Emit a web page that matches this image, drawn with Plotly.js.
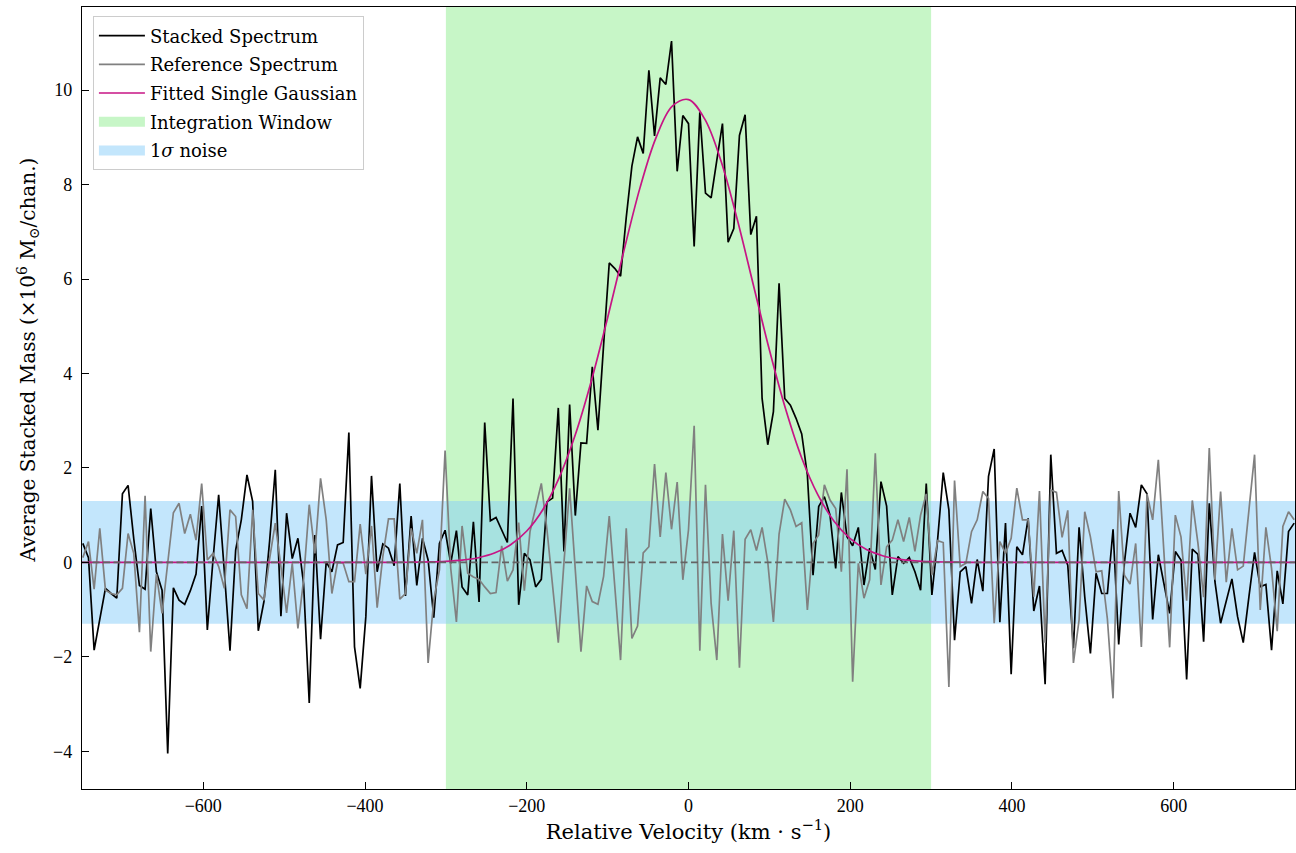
<!DOCTYPE html>
<html>
<head>
<meta charset="utf-8">
<script src="https://cdn.plot.ly/plotly-3.0.1.min.js"></script>
<style>html,body{margin:0;padding:0;background:#fff;}#chart{width:1296px;height:853px;}</style>
</head>
<body>
<div id="chart"></div>
<script>
// ---- channel grid (km/s) ----
const channelStart = -749;
const channelWidth = 7;
const channelCount = 215;

// ---- stacked spectrum (x1e6 Msun / chan) ----
const stackedSpectrum = [
 0.40, 0.10,-1.86,-1.20,-0.55,-0.66,-0.76, 1.45, 1.63, 0.50,
-0.49,-0.57, 1.14,-0.20,-0.59,-4.05,-0.54,-0.80,-0.89,-0.60,
-0.25, 1.19,-1.43, 0.05, 1.43,-0.20,-1.87, 0.26, 0.90, 1.85,
 1.29,-1.45,-0.83, 0.45, 1.96,-1.14, 1.04, 0.08, 0.51,-0.45,
-2.98, 0.58,-1.63, 0.01,-0.20, 0.37, 0.42, 2.75,-1.79,-2.67,
-1.15, 1.83,-0.20, 0.39, 0.30,-0.07, 1.67,-0.71, 0.98,-0.49,
 0.51, 0.05,-1.17, 0.40, 0.68,-0.02, 0.67,-0.52,-0.69, 0.86,
-0.84, 2.96, 0.88, 0.95, 0.69, 0.42, 3.47,-0.90, 0.19, 0.05,
-0.52,-0.36, 1.28, 1.36, 3.27, 0.23, 3.34, 0.99, 2.53, 2.52,
 4.14, 2.80, 4.60, 6.34, 6.22, 6.06, 7.30, 8.39, 9.01, 8.66,
10.42, 9.03,10.26,10.12,11.04, 8.28, 9.46, 9.29, 6.69, 9.53,
 7.82, 7.72, 8.51, 9.29, 6.78, 7.07, 9.04, 9.48, 6.94, 7.33,
 3.47, 2.49, 3.19, 5.91, 3.47, 3.33, 3.05, 2.72, 1.85,-0.27,
 1.18, 1.39, 1.00,-0.13, 1.48, 0.54, 0.35, 0.74,-0.48, 0.30,
-0.15, 1.71, 1.19,-0.69, 0.12,-0.02, 0.10,-0.20,-0.59, 1.67,
-0.69, 0.47, 1.90, 1.11,-1.65,-0.20,-0.09,-0.87, 0.06,-0.61,
 1.82, 2.40,-1.27, 0.83,-2.37, 0.33, 0.16, 0.93,-1.03,-0.50,
-2.58, 2.28, 0.19, 0.25,-0.06,-1.82, 0.74,-0.73,-1.93,-0.23,
-0.66,-0.66, 0.70,-1.74,-0.02, 1.04, 0.74, 1.64, 1.45,-1.21,
 0.16,-0.48,-1.08, 0.23, 0.05,-2.48, 0.28, 0.17,-1.68, 1.25,
-0.41,-1.29,-0.80,-0.35,-1.15,-1.70,-0.73, 0.21,-0.52,-0.47,
-1.86,-0.18,-0.88, 0.65, 0.83
];

// ---- reference spectrum ----
const referenceSpectrum = [
 0.10, 0.44,-0.57, 0.72,-0.59,-0.66,-0.69,-0.55, 0.61, 0.19,
-1.48, 1.41,-1.89,-0.25,-1.08, 0.05, 1.05, 1.25, 0.61, 1.02,
 0.47, 1.67, 0.05, 0.19,-0.09,-0.55, 1.11, 0.97,-0.69,-0.98,
 1.11,-0.66,-0.80, 0.08, 0.83,-0.09,-1.07,-0.02,-1.40,-0.37,
 1.22, 0.19, 1.78, 0.90,-0.66, 0.00,-0.02,-0.41,-0.41, 0.81,
-0.25, 0.77,-0.96, 0.12, 0.92, 0.92,-0.78,-0.66, 0.72, 0.19,
 0.90,-2.13,-0.80,-0.16, 2.37,-0.13,-1.26, 0.77,-0.23,-0.31,
-0.36,-0.52,-0.66,-0.64, 0.35,-0.40,-0.16, 0.84,-0.60, 0.65,
 1.18, 1.67, 0.69,-0.48,-1.70, 0.00, 1.57,-0.16,-1.89,-0.50,
-0.83,-0.89,-0.30, 0.98,-0.52,-2.07, 0.72,-1.61,-1.35, 0.20,
 0.33, 2.08, 0.54, 1.90, 0.70, 1.70,-0.37, 0.69, 2.89,-1.87,
 1.64,-0.87,-2.07, 0.60,-0.81, 0.67,-2.23, 0.49, 0.69, 0.25,
 0.74, 0.01,-1.26, 0.60, 1.34, 1.11, 0.76, 0.84,-1.01, 0.40,
 0.58, 1.64, 1.32, 1.14,-0.20, 1.97,-2.53,-0.02,-0.76,-0.37,
 2.31,-0.48, 0.33, 0.47, 0.90, 0.44, 0.95, 0.23, 1.00, 1.45,
-0.27, 0.46, 0.42,-2.64, 1.73,-0.09,-0.02, 0.65, 0.90, 1.50,
 1.35,-1.29, 0.44, 0.19, 0.51, 1.57, 0.90, 0.90,-0.73, 1.51,
-1.70, 1.53, 1.48, 0.53, 1.10,-2.13,-1.22, 1.07, 0.54,-0.20,
-0.18,-1.20,-2.88, 1.51,-0.27,-0.46, 0.40,-1.79, 1.45, 0.90,
 2.17, 0.19,-1.80, 1.00, 0.54,-0.81, 1.31, 0.40,-0.74, 2.42,
-0.37, 1.50,-0.42, 0.72,-0.16,-0.08, 1.11, 2.28,-1.01, 0.74,
-0.13,-1.46, 0.76, 1.07, 0.90
];

// ---- fitted single gaussian, sampled ----
const gaussVelocity = [-750,-360,-340,-320,-300,-280,-260,-240,-220,-200,-180,-160,-140,-120,-100,-80,-60,-40,-20,0,20,40,60,80,100,120,140,160,180,200,220,240,260,280,300,320,340,360,750];
const gaussMass     = [0,0,0.003,0.009,0.021,0.046,0.098,0.196,0.371,0.663,1.12,1.79,2.70,3.85,5.18,6.59,7.93,9.00,9.66,9.80,9.39,8.51,7.28,5.89,4.50,3.25,2.21,1.43,0.87,0.50,0.27,0.14,0.068,0.031,0.013,0.0055,0.002,0,0];

// ---- integration window and noise ----
const integrationWindow = [-300, 300];
const noiseSigma = 1.3;
const velocityLimits = [-750, 750];
const massLimits = [-4.80, 11.76];
const xTicks = [-600,-400,-200,0,200,400,600];
const yTicks = [-4,-2,0,2,4,6,8,10];

const velocity = [];
for (let i = 0; i < channelCount; i++) velocity.push(channelStart + i*channelWidth);

const greenFill = 'rgba(144,238,144,0.5)';
const blueFill = 'rgba(135,206,250,0.5)';
const big = 1000;
const traces = [
  { // integration window
    x: [integrationWindow[0], integrationWindow[1], integrationWindow[1], integrationWindow[0], integrationWindow[0]],
    y: [-big, -big, big, big, -big],
    mode: 'lines', fill: 'toself', fillcolor: greenFill,
    line: {width: 0, color: 'rgba(0,0,0,0)'},
    showlegend: false, hoverinfo: 'skip'
  },
  { // noise band
    x: [-big, big, big, -big, -big],
    y: [-noiseSigma, -noiseSigma, noiseSigma, noiseSigma, -noiseSigma],
    mode: 'lines', fill: 'toself', fillcolor: blueFill,
    line: {width: 0, color: 'rgba(0,0,0,0)'},
    showlegend: false, hoverinfo: 'skip'
  },
  {
    x: velocity, y: stackedSpectrum, mode: 'lines',
    line: {color: '#000000', width: 1.7},
    name: 'Stacked Spectrum', legendrank: 1, legendgroup: 'a'
  },
  {
    x: velocity, y: referenceSpectrum, mode: 'lines',
    line: {color: '#808080', width: 1.7},
    name: 'Reference Spectrum', legendrank: 2, legendgroup: 'b'
  },
  {
    x: gaussVelocity, y: gaussMass, mode: 'lines',
    line: {color: '#C71585', width: 1.7, shape: 'spline', smoothing: 1},
    name: 'Fitted Single Gaussian', legendrank: 3, legendgroup: 'c'
  },
  {
    x: velocityLimits, y: [0, 0], mode: 'lines',
    line: {color: 'rgb(100,100,100)', width: 1.8, dash: '7px,3.5px'},
    showlegend: false, hoverinfo: 'skip'
  },
  { // legend patch: integration window
    x: [null], y: [null], mode: 'lines',
    line: {color: greenFill, width: 14},
    name: 'Integration Window', legendrank: 4, legendgroup: 'd', hoverinfo: 'skip'
  },
  { // legend patch: noise
    x: [null], y: [null], mode: 'lines',
    line: {color: blueFill, width: 14},
    name: '1<i>σ</i> noise', legendrank: 5, legendgroup: 'e', hoverinfo: 'skip'
  }
];

const layout = {
  width: 1296, height: 853,
  margin: {l: 82, r: 1, t: 7, b: 64},
  paper_bgcolor: '#ffffff', plot_bgcolor: '#ffffff',
  font: {family: 'DejaVu Serif', color: '#000000', size: 17},
  showlegend: true,
  xaxis: {
    range: velocityLimits, tickvals: xTicks, ticktext: xTicks.map(v => v < 0 ? '\u2212' + Math.abs(v) : String(v)),
    ticks: 'inside', ticklen: 7, tickwidth: 1, tickcolor: '#000',
    showline: true, linecolor: '#000', linewidth: 1.2, mirror: true,
    showgrid: false, zeroline: false,
    tickfont: {family: 'Liberation Serif', size: 18},
    title: {text: 'Relative Velocity (km · s<sup>−1</sup>)', font: {family: 'DejaVu Serif', size: 21}, standoff: 9}
  },
  yaxis: {
    range: massLimits, tickvals: yTicks, ticktext: yTicks.map(v => v < 0 ? '\u2212' + Math.abs(v) : String(v)),
    ticks: 'inside', ticklen: 7, tickwidth: 1, tickcolor: '#000',
    showline: true, linecolor: '#000', linewidth: 1.2, mirror: true,
    showgrid: false, zeroline: false,
    tickfont: {family: 'Liberation Serif', size: 18},
    ticklabelstandoff: 5
  },
  annotations: [{
    text: 'Average Stacked Mass (×10<sup>6</sup> M<sub>⊙</sub>/chan.)',
    xref: 'paper', yref: 'paper', x: -0.0445, y: 0.548,
    xanchor: 'center', yanchor: 'middle', textangle: -90, showarrow: false,
    font: {family: 'DejaVu Serif', size: 20, color: '#000'}
  }],
  legend: {
    x: 0.009, y: 0.988, xanchor: 'left', yanchor: 'top',
    bgcolor: 'rgba(255,255,255,0.8)', bordercolor: '#cccccc', borderwidth: 1,
    font: {family: 'DejaVu Serif', size: 18},
    traceorder: 'grouped', tracegroupgap: 2.3, itemwidth: 46
  }
};

Plotly.newPlot('chart', traces, layout, {displayModeBar: false, staticPlot: true});
</script>
</body>
</html>
